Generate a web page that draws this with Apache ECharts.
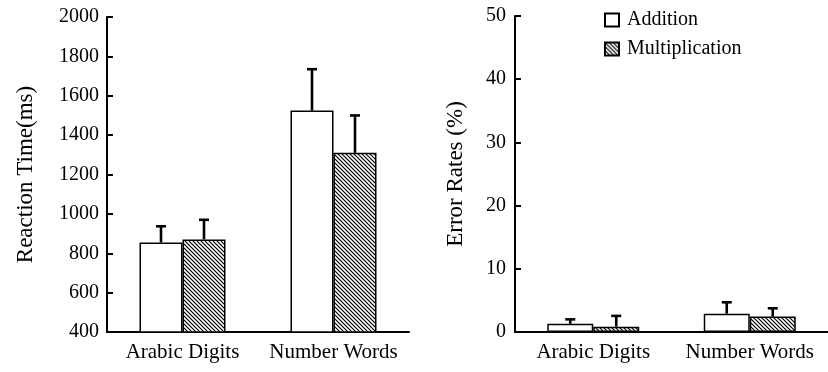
<!DOCTYPE html>
<html>
<head>
<meta charset="utf-8">
<script src="https://cdn.jsdelivr.net/npm/echarts@6/dist/echarts.min.js"></script>
<style>html,body{margin:0;padding:0;background:#fff}#c{width:828px;height:372px}</style>
</head>
<body>
<div id="c"></div>
<script>
const categories = ['Arabic Digits', 'Number Words'];
const seriesNames = ['Addition', 'Multiplication'];
// Reaction time (ms)
const rtAddition = [855, 1525];
const rtAdditionErr = [82, 210];
const rtMultiplication = [870, 1310];
const rtMultiplicationErr = [100, 190];
// Error rates (%)
const erAddition = [1.3, 2.9];
const erAdditionErr = [0.7, 1.8];
const erMultiplication = [0.85, 2.45];
const erMultiplicationErr = [1.7, 1.3];
const rtTicks = [400, 2000, 200];
const erTicks = [0, 50, 10];

const FONT = '"Liberation Serif", "DejaVu Serif", serif';

// hatch pattern
const tile = document.createElement('canvas');
tile.width = 4; tile.height = 4;
const tc = tile.getContext('2d');
tc.fillStyle = '#fff'; tc.fillRect(0, 0, 4, 4);
tc.strokeStyle = '#000'; tc.lineWidth = 1.2;
tc.beginPath();
tc.moveTo(-1, -1); tc.lineTo(5, 5);
tc.moveTo(-1, 3); tc.lineTo(1, 5);
tc.moveTo(3, -1); tc.lineTo(5, 1);
tc.stroke();
const hatch = { image: tile, repeat: 'repeat' };

function errSeries(values, errs, side, barW, axisIdx, name) {
  return {
    type: 'custom', name: name + ' err', xAxisIndex: axisIdx, yAxisIndex: axisIdx, z: 5,
    data: values.map((v, i) => [i, v, errs[i]]),
    renderItem: function (params, api) {
      const p = api.coord([api.value(0), api.value(1)]);
      const t = api.coord([api.value(0), api.value(1) + api.value(2)]);
      const x = p[0] + side * barW / 2;
      const st = { stroke: '#000', lineWidth: 2.6 };
      return {
        type: 'group', children: [
          { type: 'line', shape: { x1: x, y1: p[1], x2: x, y2: t[1] }, style: st },
          { type: 'line', shape: { x1: x - 5, y1: t[1], x2: x + 5, y2: t[1] }, style: st }
        ]
      };
    }
  };
}

function xAxis(gi) {
  return {
    type: 'category', gridIndex: gi, data: categories,
    axisLine: { lineStyle: { color: '#000', width: 2 } },
    axisTick: { inside: true, length: 5, interval: 0, lineStyle: { color: '#000', width: 2 } },
    axisLabel: { color: '#000', fontFamily: FONT, fontSize: 21, margin: 10, interval: 0, hideOverlap: false },
    splitLine: { show: false }
  };
}
function yAxis(gi, ticks, name, gap, margin) {
  return {
    type: 'value', gridIndex: gi, min: ticks[0], max: ticks[1], interval: ticks[2],
    name: name, nameLocation: 'middle', nameGap: gap,
    nameTextStyle: { color: '#000', fontFamily: FONT, fontSize: 23 },
    axisLine: { show: true, lineStyle: { color: '#000', width: 2 } },
    axisTick: { show: true, inside: true, length: 6, lineStyle: { color: '#000', width: 2 } },
    axisLabel: { color: '#000', fontFamily: FONT, fontSize: 20, margin: margin, formatter: v => String(v) },
    splitLine: { show: false }
  };
}

const BW1 = 43, BW2 = 46;
const barStyleA = { color: '#fff', borderColor: '#000', borderWidth: 1.5 };
const barStyleM = { color: hatch, borderColor: '#000', borderWidth: 1.5 };

const chart = echarts.init(document.getElementById('c'), null, { renderer: 'canvas' });
chart.setOption({
  animation: false,
  backgroundColor: '#fff',
  grid: [
    { left: 107, top: 17, width: 302, height: 315 },
    { left: 515, top: 16, width: 324, height: 316 }
  ],
  legend: {
    data: seriesNames, orient: 'vertical', left: 604, top: 10, padding: 0,
    itemWidth: 14, itemHeight: 13, itemGap: 9, icon: 'rect',
    textStyle: { color: '#000', fontFamily: FONT, fontSize: 20, padding: [0, 0, 0, 3] }
  },
  xAxis: [xAxis(0), xAxis(1)],
  yAxis: [yAxis(0, rtTicks, 'Reaction Time(ms)', 70, 8), yAxis(1, erTicks, 'Error Rates (%)', 48, 9)],
  series: [
    { type: 'bar', name: seriesNames[0], xAxisIndex: 0, yAxisIndex: 0, data: rtAddition, barWidth: BW1, barGap: '0%', itemStyle: barStyleA },
    { type: 'bar', name: seriesNames[1], xAxisIndex: 0, yAxisIndex: 0, data: rtMultiplication, barWidth: BW1, barGap: '0%', itemStyle: barStyleM },
    { type: 'bar', name: seriesNames[0], xAxisIndex: 1, yAxisIndex: 1, data: erAddition, barWidth: BW2, barGap: '0%', itemStyle: barStyleA },
    { type: 'bar', name: seriesNames[1], xAxisIndex: 1, yAxisIndex: 1, data: erMultiplication, barWidth: BW2, barGap: '0%', itemStyle: barStyleM },
    errSeries(rtAddition, rtAdditionErr, -1, BW1, 0, 'rtA'),
    errSeries(rtMultiplication, rtMultiplicationErr, 1, BW1, 0, 'rtM'),
    errSeries(erAddition, erAdditionErr, -1, BW2, 1, 'erA'),
    errSeries(erMultiplication, erMultiplicationErr, 1, BW2, 1, 'erM')
  ]
});
</script>
</body>
</html>
